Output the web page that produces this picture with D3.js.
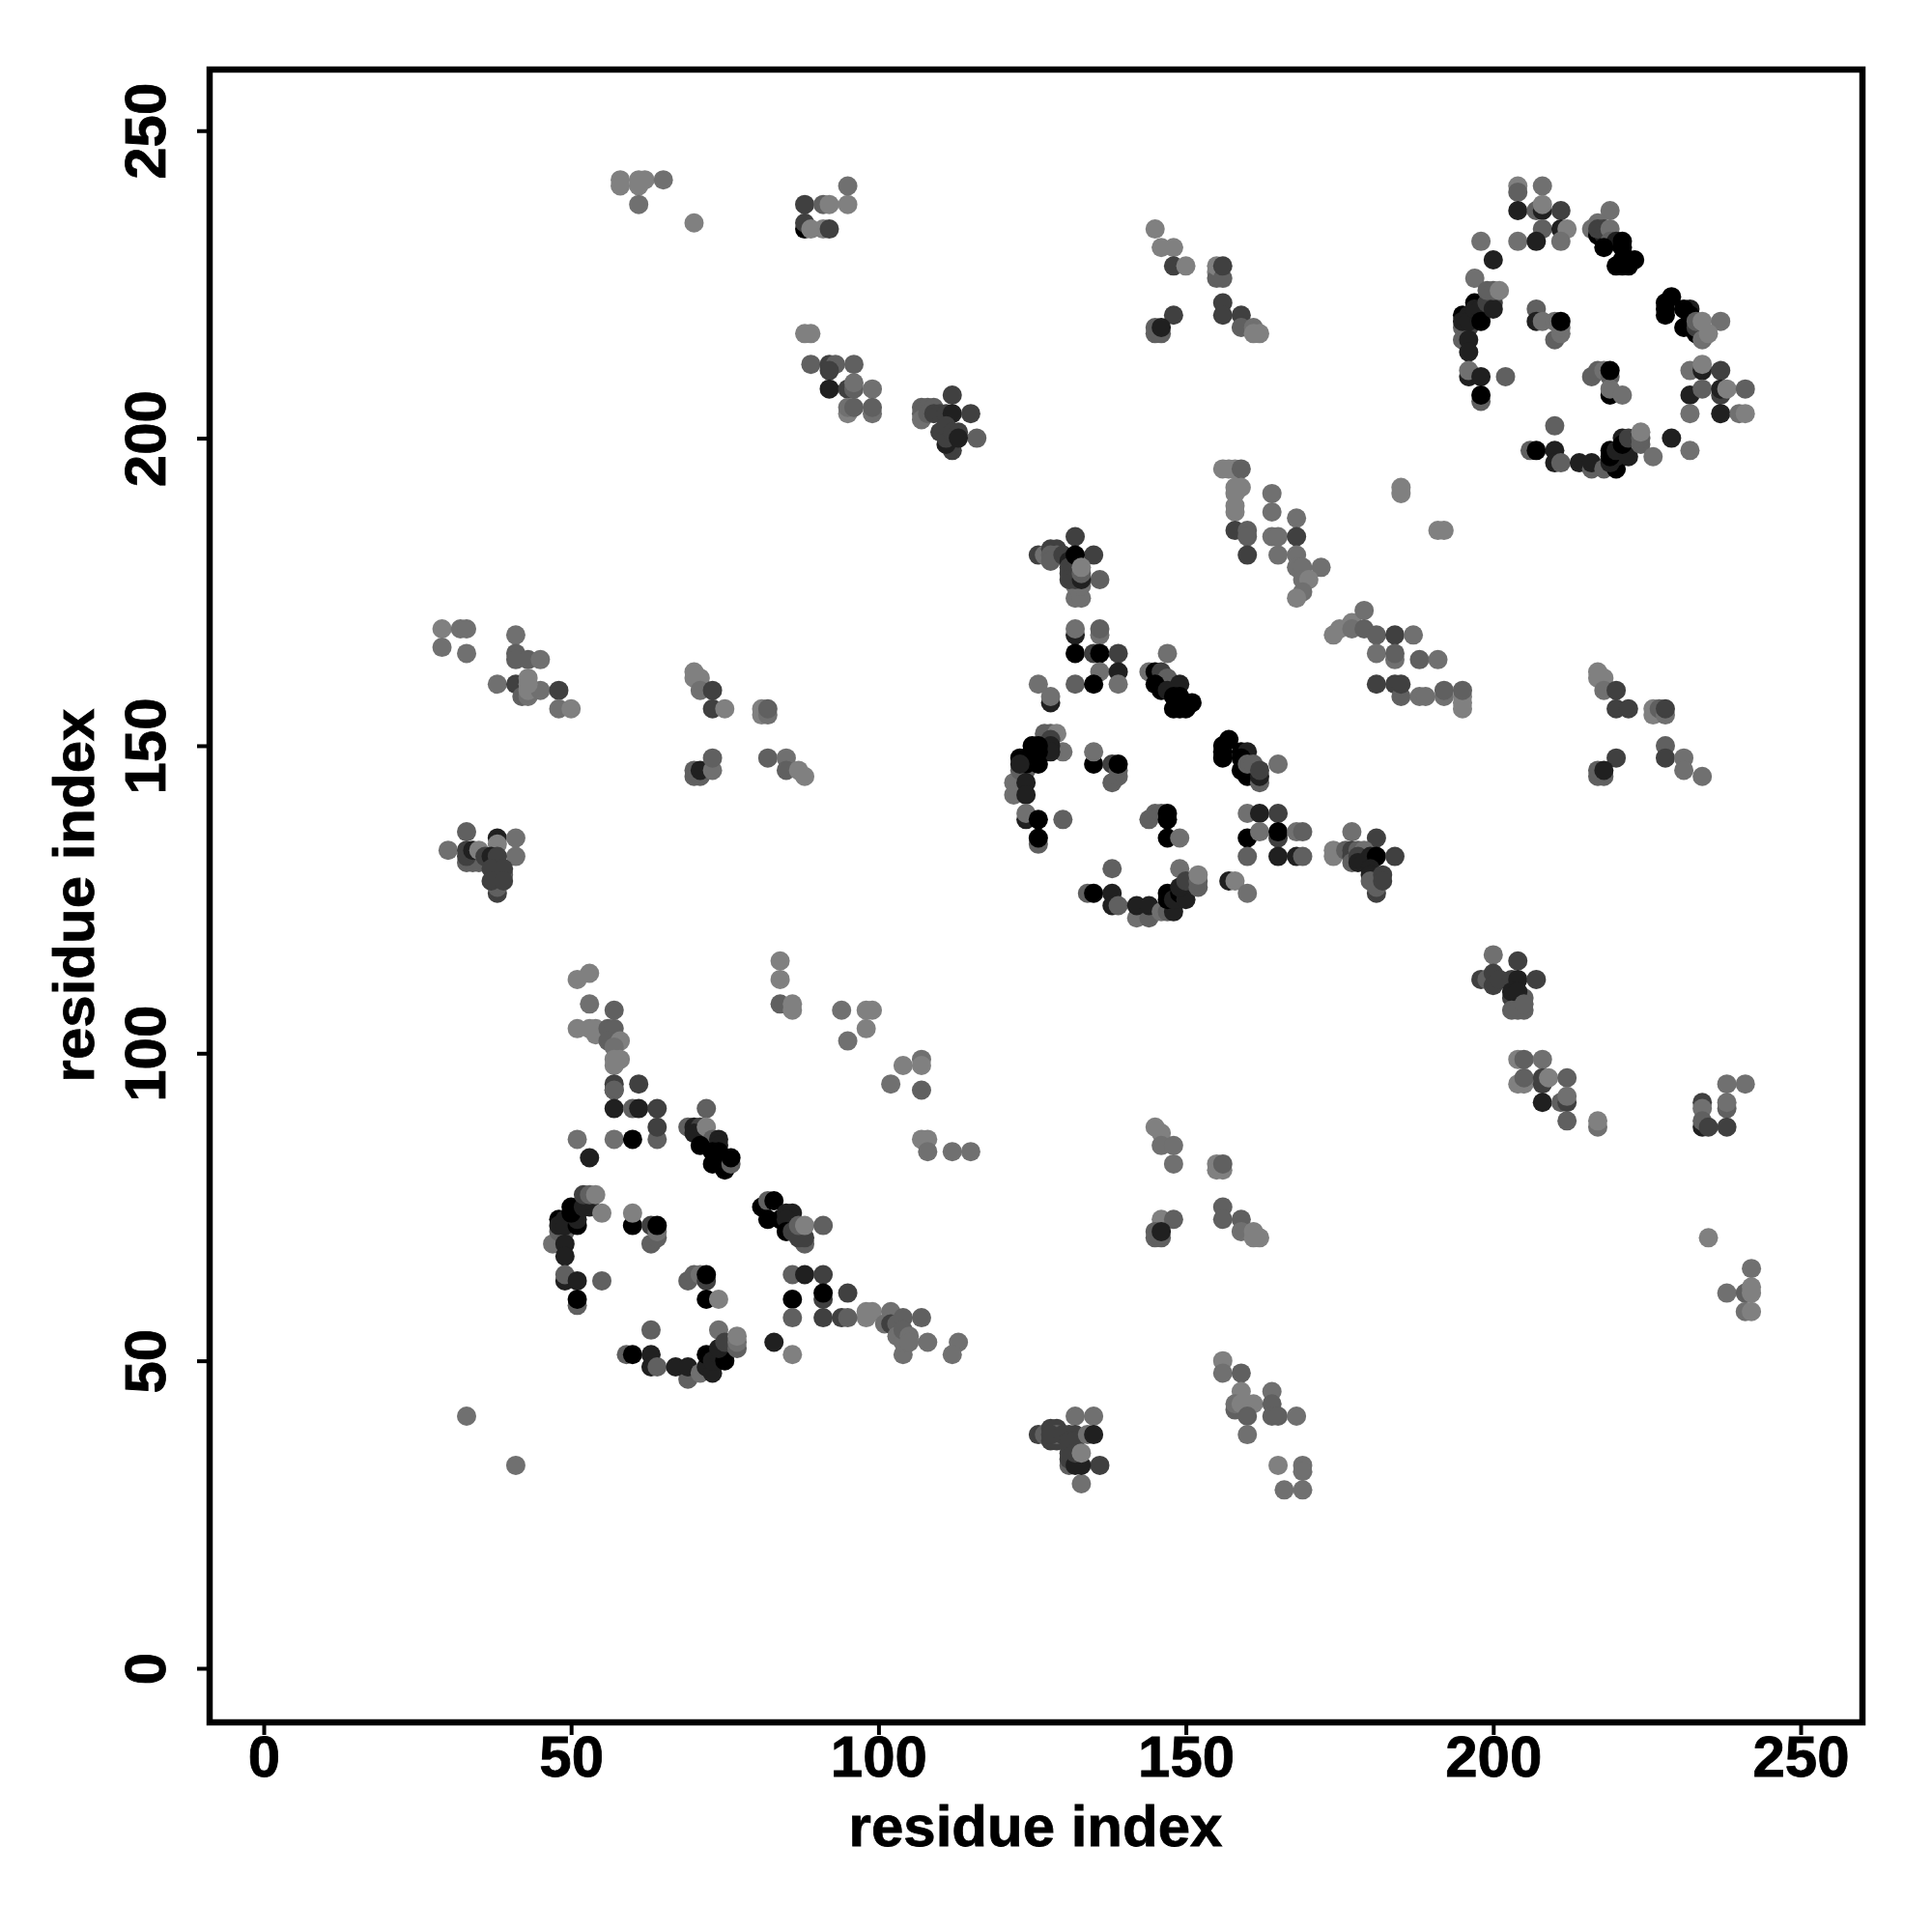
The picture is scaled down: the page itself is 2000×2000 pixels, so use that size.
<!DOCTYPE html>
<html><head><meta charset="utf-8">
<script src="https://cdn.jsdelivr.net/npm/d3@7"></script>
<style>html,body{margin:0;background:#fff}svg{display:block}text{font-family:"Liberation Sans",Arial,sans-serif;font-weight:bold;fill:#000;stroke:#000;stroke-width:0.8px}</style>
</head><body><svg id="c" width="2000" height="2000"></svg>
<script>
// each contact: [residue i, residue j, score]
const tickValues=[0,50,100,150,200,250];
const axisTitle="residue index";
const ringTopRight=[[204,241,1],[204,240,2],[208,241,1.5],[204,237,4],[207,237,2],[208,237,4],[208,238,1],[211,237,3],[208,234,2],[211,234,4],[212,234,1],[204,232,1.5],[207,232,4],[211,232,1.5],[198,232,1.5],[200,229,4],[197,226,1.5],
[195,218,2],[196,218,3],[195,216,2],[196,216,4],[196,214,4],[195,220,5],[195,219,4],[196,220,4],[196,219,4],[197,222,5],[197,221,4],[198,221,4],[198,219,5],[199,222,3],[200,222,3],[200,221,4],[199,224,2],[200,224,2],[201,224,1],
[196,210,4],[196,211,1.5],[198,210,4],[202,210,2],[198,206,2],[198,207,5],
[207,221,2],[207,219,4],[208,219,1.5],[210,216,2],[211,217,1.5],[211,218,1.5],[210,219,1.5],[211,219,5],
[219,237,1.5],[217,235,1.5],[216,234,1.5],[217,233,5],[218,233,4],[217,234,3],[218,234,3],[219,234,1.5],[219,232,2],[220,232,4],[218,231,5],[221,232,5],[221,231,5],[220,228,5],[221,228,5],[222,228,5],[223,229,5],[221,229,5],[222,229,5],
[229,223,5],[228,222,5],[228,221,5],[228,220,5],[232,221,4],[231,221,5],[231,218,5],[232,220,5],[232,218,5],[233,217,5],[233,218,3],[233,219,2],[234,216,1.5],[234,219,1],[237,219,1.5],[235,217,1],
[232,211,1.5],[234,211,4],[234,212,1],[237,211,3],[232,207,4],[234,208,2],[237,207,3],[237,208,4],[238,208,1],[241,208,2],[232,204,1.5],[237,204,4],[240,204,1.5],[241,204,1],
[216,210,2],[217,211,2],[218,211,1.5],[219,210,2],[219,207,5],[219,208,1.5],[219,211,5],[221,207,1.5],
[210,202,2],[206,198,2],[207,198,5],[210,198,4],[210,196,4],[211,196,2],[214,196,4],[216,195,2],[216,196,4],[218,195,2],[220,195,5],[219,196,4],[219,198,5],[220,197,4],[219,197,5],[220,198,4],[222,197,4],[221,200,4],[221,199,5],[222,200,3],[224,199,2],[224,200,2],[224,201,1],[226,197,1.5],[229,200,4],[232,198,1.5]];
const ringCentre=[[132,184,3],[126,181,3],[127,181,1.5],[128,182,3],[129,182,3],[128,181,2],[129,181,2],[128,180,2],[130,181,3],[135,181,3],[132,174,1.5],[133,174,1.5],[132,176,1.5],[133,176,1.5],[136,177,2],[131,180,4],[131,179,3],[131,178,3],[131,177,3],[132,177,3],[132,181,5],[133,177,4],[133,178,2],[133,179,1],
[132,168,4],[132,169,1.5],[136,168,1.5],[136,169,2],[132,165,5],[135,165,3],[136,165,5],[139,165,3],[136,162,1.5],[139,162,4],[132,160,2],[135,160,5],[139,160,1.5],[128,157,4],[126,160,1.5],[128,158,1.5],
[147,165,1.5],[144,162,1.5],[145,162,5],[146,162,3],[147,161,2],[145,160,5],[146,159,5],[147,159,4],[149,160,4],[148,158,5],[149,158,5],[148,156,5],[149,156,5],[150,156,5],[151,157,5],
[127,152,2],[128,152,2],[129,152,1],[130,149,1.5],[128,151,3],[128,150,4],[128,149,4],[126,150,5],[125,150,5],[126,149,5],[125,149,5],[122,144,1.5],[122,142,1.5],[123,146,2],[124,146,2],[123,148,5],[124,148,5],[126,147,5],[124,147,5],[123,147,4],[124,144,4],[124,142,4],
[124,138,4],[124,139,1.5],[126,138,5],[130,138,2],[126,134,2],[126,135,5],
[135,147,5],[135,149,1.5],[138,147,3],[138,144,2],[139,145,2],[139,146,2],[139,147,5],
[144,138,2],[145,139,2],[146,139,2],[147,139,5],[147,138,5],[147,135,5],[149,135,1.5],
[157,151,5],[156,150,5],[156,149,5],[156,148,5],[159,149,5],[160,149,4],[159,148,5],[159,146,5],[160,145,5],[162,144,2],[162,145,4],[160,147,2],[161,147,2],[162,146,3],[165,147,1.5],
[160,139,1.5],[162,139,4],[165,139,3],[160,135,5],[162,136,1.5],[165,135,3],[165,136,5],[168,136,1.5],[169,136,2],[160,132,2],[165,132,4],[168,132,4],[169,132,2],
[138,130,2],[134,126,2],[135,126,5],[138,126,4],[138,124,4],[139,124,2],[142,122,1.5],[144,122,2],[142,124,4],[144,124,4],[146,123,1.5],[147,123,2],[148,123,4],[147,125,5],[147,126,5],[148,125,4],[149,126,5],[150,125,4],[149,127,4],[149,130,1.5],[150,128,3],[152,127,2],[152,128,2],[152,129,1],
[157,128,4],[158,128,1],[160,126,1.5]];
const clusterRight=[[177,136,1.5],[181,135,3],[174,133,1],[174,132,1],[176,133,2],[177,132,3],[177,133,3],[178,133,2],[179,133,1.5],[177,131,2],[178,132,3],[178,131,4],[179,131,4],[180,132,4],[181,132,5],[184,132,3],[180,130,4],[180,129,4],[180,128,2],[181,126,3],[181,127,2],[182,129,3],[182,128,3]];
const ringLower=[[57,94,2],[57,91,4],[60,91,2],[61,91,4],[64,91,3],[64,86,2],[64,88,3],[57,86,1.5],[60,86,5],[51,86,1.5],[53,83,4],[72,91,2],
[69,88,2],[70,88,4],[71,88,3],[70,87,4],[72,88,1],[73,86,2],[71,85,5],[74,86,4],[74,85,4],[73,84,5],[74,84,5],[73,82,5],[75,81,5],[74,83,5],[75,82,5],[76,82,2],[76,83,5],
[47,69,1.5],[48,71,2],[49,71,2],[49,69,4],[49,67,4],[48,73,5],[48,72,4],[49,73,4],[49,72,4],[51,72,5],[51,73,4],[50,74,5],[50,75,5],[52,75,4],[53,75,4],[53,76,4],[52,77,3],[53,77,2],[55,74,1],[54,77,1],
[49,63,4],[49,64,2],[51,63,4],[55,63,2],[51,59,2],[51,60,5],
[60,72,5],[60,74,1],[63,72,3],[63,69,2],[64,70,2],[64,71,1.5],[64,72,5],
[69,63,2],[70,64,2],[71,64,1.5],[72,63,3],[72,64,5],[72,60,5],[74,60,1],
[81,75,5],[82,76,2],[83,76,5],[82,73,5],[84,73,5],[85,74,4],[86,74,4],[85,73,4],[85,71,5],[86,71,3],[88,69,2],[87,70,3],[88,70,3],[87,72,2],[88,72,1],[91,72,2],
[86,64,2],[88,64,4],[91,64,3],[86,60,5],[91,60,3],[91,61,5],[95,61,3],[86,57,2],[91,57,3],[94,57,3],[95,57,2],
[63,55,2],[59,51,2],[60,51,5],[63,51,4],[63,49,4],[64,49,2],[69,47,2],[67,49,4],[69,49,4],[71,48,1.5],[72,49,4],[73,48,4],[72,51,5],[73,50,4],[74,51,4],[75,50,5],[74,52,4],[74,55,1.5],[75,53,3],[77,52,2],[77,53,1.5],[77,54,1],[83,53,4],[86,51,1]];
const tailLower=[[98,58,1],[99,58,1],[98,57,1],[102,58,1.5],[101,56,1.5],[102,56,3],[103,56,2],[104,57,2],[107,57,2],[103,54,1.5],[104,51,1.5],[104,53,1.5],[104,55,2],[105,54,1.5],[105,53,1.5],[108,53,1.5],[113,53,1.5],[112,51,1.5]];
const armLower=[[51,112,1],[53,113,1],[53,108,1.5],[57,107,2],[51,104,1],[53,104,1],[54,104,1],[54,103,1],[56,104,2],[57,104,2],[56,102,2],[58,102,1],[57,101,1.5],[57,99,1],[58,99,1],[57,98,1],[57,95,3],[57,94,3],[61,95,3],
[84,115,1],[84,112,1],[84,108,2],[86,108,1],[86,107,1],[94,107,1.5],[98,107,1],[99,107,1],[95,102,1.5],[98,104,1],[102,95,1.5],[104,98,1],[107,99,1.5],[107,98,1],[107,94,2],[107,86,1],[108,86,1],[108,84,1.5],[112,84,1.5],[115,84,1.5],[33,41,1.5],[41,33,1.5]];
const patchTopLeft=[[58,242,1],[58,241,1],[61,242,1],[62,242,1],[61,241,1],[61,238,1.5],[65,242,1.5],[70,235,1],
[88,238,3],[91,238,2],[92,238,1],[95,238,1],[95,241,1.5],[88,234,5],[88,235,3],[89,234,1],[91,234,1],[92,234,3],
[88,217,1],[89,217,1],[89,212,2],[92,212,3],[93,212,2],[92,211,3],[96,212,2],[92,208,4],[95,208,3],[96,208,2],[96,209,1.5],[99,208,1.5],[95,204,1],[95,205,1.5],[96,205,2],[99,204,1.5],[99,205,2]];
const clusterUpper=[[112,207,3],[107,205,2],[107,204,2],[107,203,1.5],[108,205,2],[109,205,2],[108,204,2],[109,204,3],[110,204,3],[111,204,3],[112,204,4],[115,204,3],[116,200,2],[112,198,3],[112,199,3],[111,199,4],[110,201,3],[111,200,3],[111,202,3],[112,201,3],[113,201,3],[113,200,4]];
const clusterLeft=[[30,133,1.5],[33,136,2],[33,131,2],[34,131,2],[35,131,2],[33,133,3],[33,132,3],[34,133,4],[35,133,1],[38,135,4],[38,134,1],[41,135,1.5],[41,132,1.5],[36,132,3],[37,132,4],[38,132,3],[38,126,3],[38,127,2],[39,129,2],[38,129,3],[37,130,3],[37,128,3],[39,130,3],[39,128,3]];
const clusterLower=[[132,41,1.5],[135,41,1.5],[126,38,3],[127,38,2],[128,39,3],[129,39,3],[128,37,3],[129,37,3],[129,38,2],[128,38,3],[130,38,3],[131,38,3],[132,38,3],[133,30,1.5],[136,33,3],[131,33,2],[131,34,3],[132,34,3],[131,35,3],[131,37,3],[132,37,3],[132,33,4],[133,33,4],[134,38,1.5],[135,38,4],[132,35,3],[133,35,1]];
const patchLowerMid=[[145,88,1],[146,87,1],[146,85,1.5],[148,85,1.5],[148,82,1.5],[155,82,1],[155,81,1],[156,81,1],[156,82,2],[146,73,1],[148,73,2],[145,71,2],[145,70,2],[146,70,2],[146,71,4],[156,75,2],[156,73,2],[159,73,2],[159,71,1.5],[161,71,1],[161,70,1],[162,70,1],
[156,50,1],[156,48,1.5],[159,48,2],[159,45,1],[158,42,2],[158,43,1.5],[159,43,1],[161,43,1],[160,41,2],[160,38,1.5],[164,45,1.5],[164,43,2],[164,41,2],[165,41,2],[168,41,1.5],[165,33,1],[169,33,1.5],[169,32,1.5],[166,29,1.5],[169,29,1.5]];
const patchLowerRight=[[204,99,1],[205,99,2],[208,99,1.5],[204,95,1],[205,95,1],[205,96,2],[208,95,3],[208,96,3],[209,96,1],[208,92,4],[212,96,2],[211,92,2],[212,92,3],[212,93,1.5],[212,89,2],[217,88,1.5],[217,89,1],
[234,92,3],[234,91,1.5],[234,88,4],[234,89,2],[235,88,3],[238,95,1.5],[241,95,1.5],[238,91,2],[238,92,1.5],[238,88,3],[235,70,1],[242,65,1.5],[238,61,1.5],[241,61,2],[242,62,1],[242,61,1],[241,58,1.5],[242,58,1]];
const clusterRightMid=[[200,116,1.5],[204,115,3],[198,112,3],[199,112,2],[200,113,3],[200,111,3],[201,112,3],[203,112,3],[204,112,4],[207,112,3],[203,109,3],[205,109,2],[203,110,4],[204,110,4],[203,107,2],[204,107,2],[205,107,2],[205,108,2]];
const patchTopMid=[[145,234,1],[146,231,1],[148,231,1],[148,228,3],[150,228,1],[155,227,1],[155,226,2],[155,228,1],[156,226,2],[156,228,3],[148,220,3],[145,217,2],[145,218,2],[146,217,2],[146,218,4],[156,222,3],[156,220,3],[159,220,3],[159,218,2],[161,218,1.5],[161,217,1],[162,217,1]];
const patchCentreRight=[[156,195,1],[157,195,1],[158,195,1],[159,195,2],[158,192,1],[159,192,1],[158,191,1],[158,189,1],[158,188,1],[158,185,3],[160,185,2],[160,184,2],[160,181,3],[164,191,1.5],[164,188,1.5],[168,187,1.5],[164,184,1.5],[165,184,1.5],[168,184,3],[165,181,1.5],[168,181,1.5],[172,179,1.5],[168,179,1.5],[169,179,1.5],[169,177,1.5],[170,177,1],[169,175,1.5],[168,174,1],
[185,192,1],[185,191,1],[191,185,1],[192,185,1],
[174,168,1],[175,169,1],[177,170,1],[179,172,1.5],[177,169,1.5],[179,169,2],[181,168,2],[184,168,3],[187,168,1.5],[181,165,1.5],[184,164,1.5],[184,165,2],[188,164,2],[191,164,1.5],[181,160,3],[184,160,3],[185,158,2],[185,160,3],[188,158,1.5],[189,158,1.5],[192,158,1.5],[192,159,2],[195,156,1],[195,157,1],[195,158,1],[195,159,2]];
const patchFarRight=[[217,162,1],[217,161,1],[218,161,1],[218,159,1.5],[220,159,3],[220,156,3],[222,156,3],[226,155,1],[226,156,1],[227,156,2],[228,155,1.5],[228,156,3],[220,148,3],[217,145,2],[217,146,2],[218,145,2],[218,146,4],[228,150,2],[228,148,3],[231,148,1.5],[231,146,1.5],[234,145,1.5]];
const patchMidLeft=[[29,169,1],[29,166,1.5],[32,169,1.5],[33,169,1.5],[33,165,1.5],[41,168,1.5],[41,165,2],[41,164,2],[43,164,2],[45,164,1.5],[38,160,1.5],[41,160,3],[42,158,2],[43,158,1.5],[43,159,1],[45,159,1.5],[43,160,1],[43,161,1],[48,159,3],[48,156,1.5],[50,156,1],
[70,162,1],[70,161,1],[71,161,1],[71,159,1.5],[73,159,3],[73,156,3],[75,156,1],[81,155,1],[81,156,1],[82,155,1.5],[82,156,2],[70,145,2],[70,146,2],[71,145,2],[71,146,4],[73,146,1.5],[73,148,2],[82,148,2],[85,148,1.5],[85,146,2],[87,146,1],[88,145,1]];

const contacts=[].concat(patchTopLeft,patchTopMid,patchMidLeft,patchFarRight,patchCentreRight,patchLowerMid,patchLowerRight,clusterUpper,clusterLeft,clusterLower,clusterRightMid,clusterRight,armLower,tailLower,ringLower,ringCentre,ringTopRight);

const svg=d3.select("#c");
const L=217,R=1928,T=72,B=1783;
const x=d3.scaleLinear().domain([(L-273)/6.364,(R-273)/6.364]).range([L,R]);
const y=d3.scaleLinear().domain([(1727-B)/6.367,(1727-T)/6.367]).range([B,T]);
const shade=d3.scaleLinear().domain([1,5]).range(["#808080","#000000"]);

svg.append("g").selectAll("circle").data(contacts).join("circle")
  .attr("cx",d=>x(d[0])).attr("cy",d=>y(d[1])).attr("r",10).attr("fill",d=>shade(d[2]));

const ax=svg.append("g").attr("transform",`translate(0,${B})`).call(d3.axisBottom(x).tickValues(tickValues).tickSize(13).tickPadding(16).tickSizeOuter(0));
const ay=svg.append("g").attr("transform",`translate(${L},0)`).call(d3.axisLeft(y).tickValues(tickValues).tickSize(13).tickSizeOuter(0));
[ax,ay].forEach(g=>{g.select(".domain").remove();g.selectAll("line").attr("stroke","#000").attr("stroke-width",4);g.selectAll("text").attr("font-size",60).attr("font-family",null);});
ax.selectAll("text").attr("dy",null).attr("y",null).attr("dominant-baseline","auto").attr("transform","translate(0,56)").attr("text-anchor","middle");
ay.selectAll("text").attr("x",null).attr("dy",null).attr("text-anchor","middle").attr("transform",d=>`translate(-46,0) rotate(-90)`);
svg.append("rect").attr("x",L).attr("y",T).attr("width",R-L).attr("height",B-T).attr("fill","none").attr("stroke","#000").attr("stroke-width",6.5);
svg.append("text").attr("x",1072).attr("y",1911).attr("text-anchor","middle").attr("font-size",60).text(axisTitle);
svg.append("text").attr("transform","translate(97,927) rotate(-90)").attr("text-anchor","middle").attr("font-size",60).text(axisTitle);
</script></body></html>
